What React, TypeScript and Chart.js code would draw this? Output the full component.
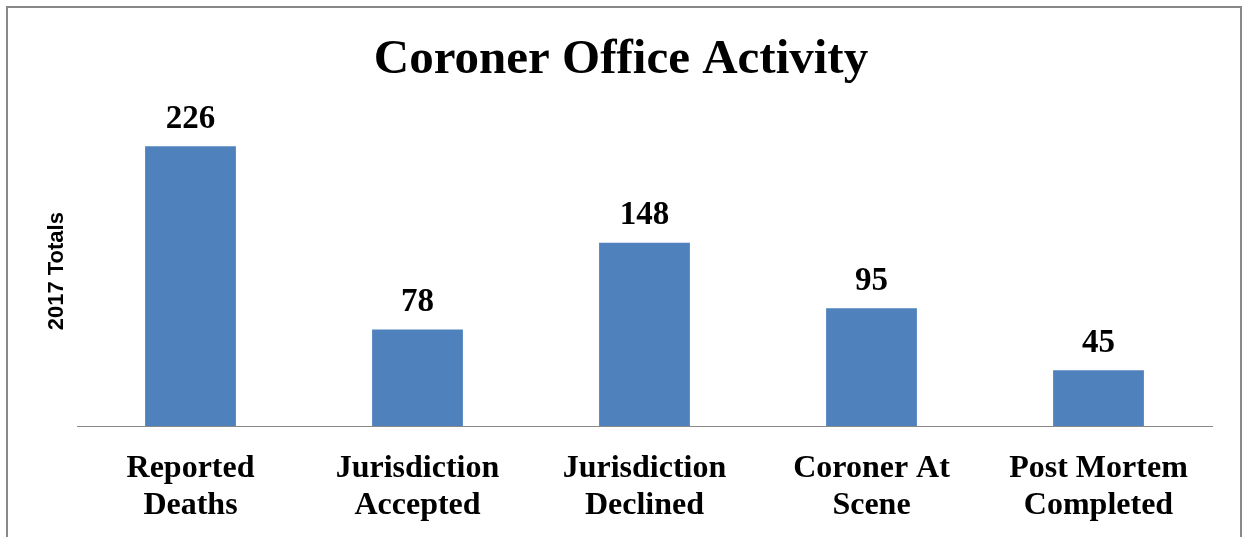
import React, { useEffect, useRef } from "react";
import { Chart, registerables } from "chart.js";

Chart.register(...registerables);

const categories: string[][] = [
  ["Reported", "Deaths"],
  ["Jurisdiction", "Accepted"],
  ["Jurisdiction", "Declined"],
  ["Coroner At", "Scene"],
  ["Post Mortem", "Completed"],
];
const totals2017: number[] = [226, 78, 148, 95, 45];
const chartTitle = "Coroner Office Activity";
const yAxisTitle = "2017 Totals";

const SERIF = "'Liberation Serif', 'Times New Roman', serif";
const SANS = "'Liberation Sans', Arial, sans-serif";

const dataLabelPlugin = {
  id: "dataLabels",
  afterDatasetsDraw(chart: any) {
    const ctx = chart.ctx;
    const meta = chart.getDatasetMeta(0);
    const values = chart.data.datasets[0].data as number[];
    ctx.save();
    ctx.font = `bold 33px ${SERIF}`;
    ctx.fillStyle = "#000";
    ctx.textAlign = "center";
    ctx.textBaseline = "middle";
    meta.data.forEach((bar: any, i: number) => {
      ctx.fillText(String(values[i]), bar.x, bar.y - 27);
    });
    ctx.restore();
  },
};

export default function App() {
  const canvasRef = useRef<HTMLCanvasElement | null>(null);

  useEffect(() => {
    if (!canvasRef.current) return;
    const chart = new Chart(canvasRef.current, {
      type: "bar",
      data: {
        labels: categories,
        datasets: [
          {
            label: yAxisTitle,
            data: totals2017,
            backgroundColor: "#4F81BD",
            barPercentage: 0.4,
            categoryPercentage: 1,
          },
        ],
      },
      options: {
        responsive: false,
        animation: false,
        layout: { padding: { left: 30, right: 32, top: 0, bottom: 0 } },
        plugins: {
          legend: { display: false },
          tooltip: { enabled: false },
          title: {
            display: true,
            text: chartTitle,
            color: "#000",
            font: { family: SERIF, size: 49, weight: "bold", lineHeight: 1.05 },
            padding: { top: 35, bottom: 30 },
          },
        },
        scales: {
          x: {
            grid: { display: false, drawTicks: false },
            border: { display: true, color: "#898989", width: 1 },
            ticks: {
              color: "#000",
              padding: 24,
              maxRotation: 0,
              autoSkip: false,
              font: { family: SERIF, size: 32, weight: "bold", lineHeight: 1.16 },
            },
            afterFit(scale: any) {
              scale.height = 111;
            },
          },
          y: {
            min: 0,
            max: 250,
            grid: { display: false, drawTicks: false },
            border: { display: false },
            ticks: { display: false },
            title: {
              display: true,
              text: yAxisTitle,
              color: "#000",
              font: { family: SANS, size: 22, weight: "bold", lineHeight: 1.2 },
              padding: { top: 14, bottom: 0 },
            },
            afterFit(scale: any) {
              scale.width = 47;
            },
          },
        },
      },
      plugins: [dataLabelPlugin],
    });
    return () => chart.destroy();
  }, []);

  return (
    <div
      style={{
        position: "fixed",
        left: 0,
        top: 0,
        width: 1244,
        height: 537,
        overflow: "hidden",
        background: "#fff",
      }}
    >
      <div
        style={{
          position: "absolute",
          left: 6,
          top: 6,
          width: 1236,
          height: 600,
          border: "2px solid #888888",
          boxSizing: "border-box",
        }}
      />
      <canvas
        ref={canvasRef}
        width={1244}
        height={537}
        style={{ position: "absolute", left: 0, top: 0, width: 1244, height: 537 }}
      />
    </div>
  );
}
